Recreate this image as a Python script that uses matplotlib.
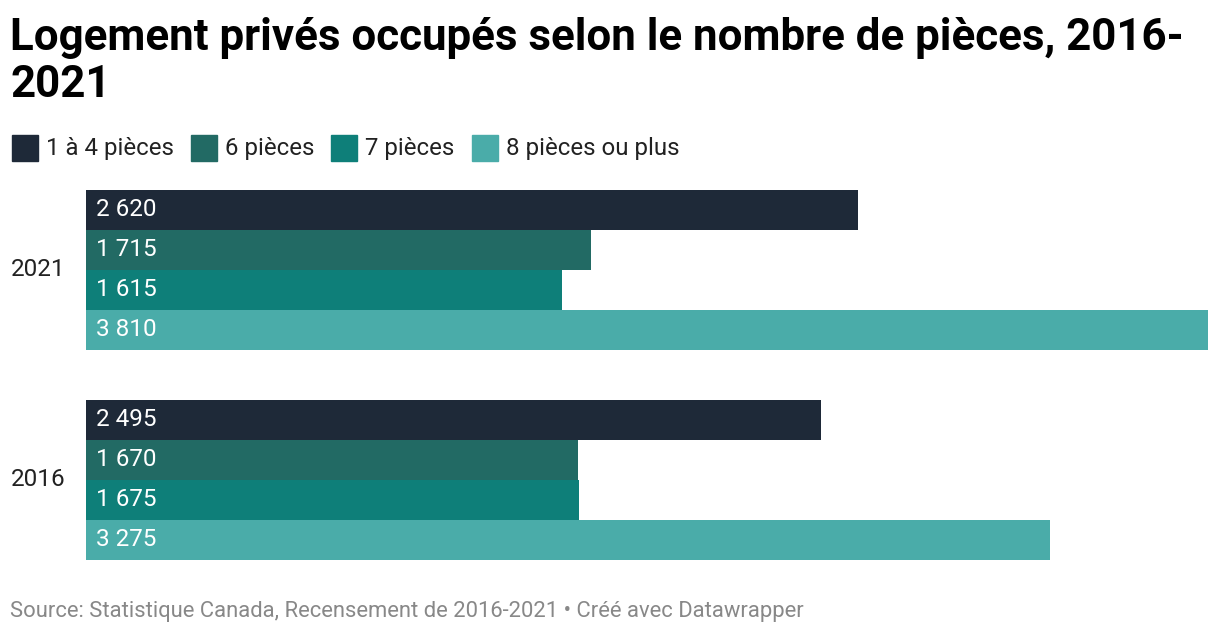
import matplotlib.pyplot as plt
from matplotlib.patches import Rectangle

plt.rcParams['font.family'] = ['Roboto', 'DejaVu Sans']

annees = ['2021', '2016']
series = ['1 à 4 pièces', '6 pièces', '7 pièces', '8 pièces ou plus']
valeurs = {
    '2021': [2620, 1715, 1615, 3810],
    '2016': [2495, 1670, 1675, 3275],
}
couleurs = ['#1e2938', '#226a64', '#0e7f79', '#4aaca9']

W, H = 1220, 636
fig = plt.figure(figsize=(W / 100, H / 100), dpi=100)
ax = fig.add_axes([86 / W, 1 - 560 / H, (1208 - 86) / W, (560 - 190) / H])

ecart = 1.25  # espace entre les groupes, en hauteur de barre
for i, an in enumerate(annees):
    base = i * (len(series) + ecart)
    for j, v in enumerate(valeurs[an]):
        y = base + j
        ax.barh(y, v, height=1.0, color=couleurs[j], align='edge')
        ax.text(10 / (1208 - 86) * 3810, y + 0.5, f'{v:,}'.replace(',', ' '),
                color='white', fontsize=17.5, va='center', ha='left')
    ax.text(-21 / (1208 - 86) * 3810, base + len(series) / 2, an,
            fontsize=17.5, va='center', ha='right', color='#222222')

ax.set_xlim(0, max(max(v) for v in valeurs.values()))
ax.set_ylim(2 * len(series) + ecart, 0)
ax.axis('off')

fig.text(10 / W, 1 - 17 / H, 'Logement privés occupés selon le nombre de pièces, 2016-\n2021',
         fontsize=31.6, fontweight='bold', va='top', ha='left', color='#000000',
         linespacing=1.15)

# légende
x = 12
for s, c in zip(series, couleurs):
    fig.patches.append(Rectangle((x / W, 1 - 161 / H), 26 / W, 26 / H,
                                 transform=fig.transFigure, color=c))
    t = fig.text((x + 34) / W, 1 - 149 / H, s, fontsize=17.3, va='center', ha='left',
                 color='#222222')
    fig.canvas.draw()
    bb = t.get_window_extent()
    x = bb.x1 + 17

fig.text(10 / W, 1 - 612 / H,
         'Source: Statistique Canada, Recensement de 2016-2021 • Créé avec Datawrapper',
         fontsize=15.8, va='center', ha='left', color='#888888')

fig.savefig('out.png', dpi=100)
